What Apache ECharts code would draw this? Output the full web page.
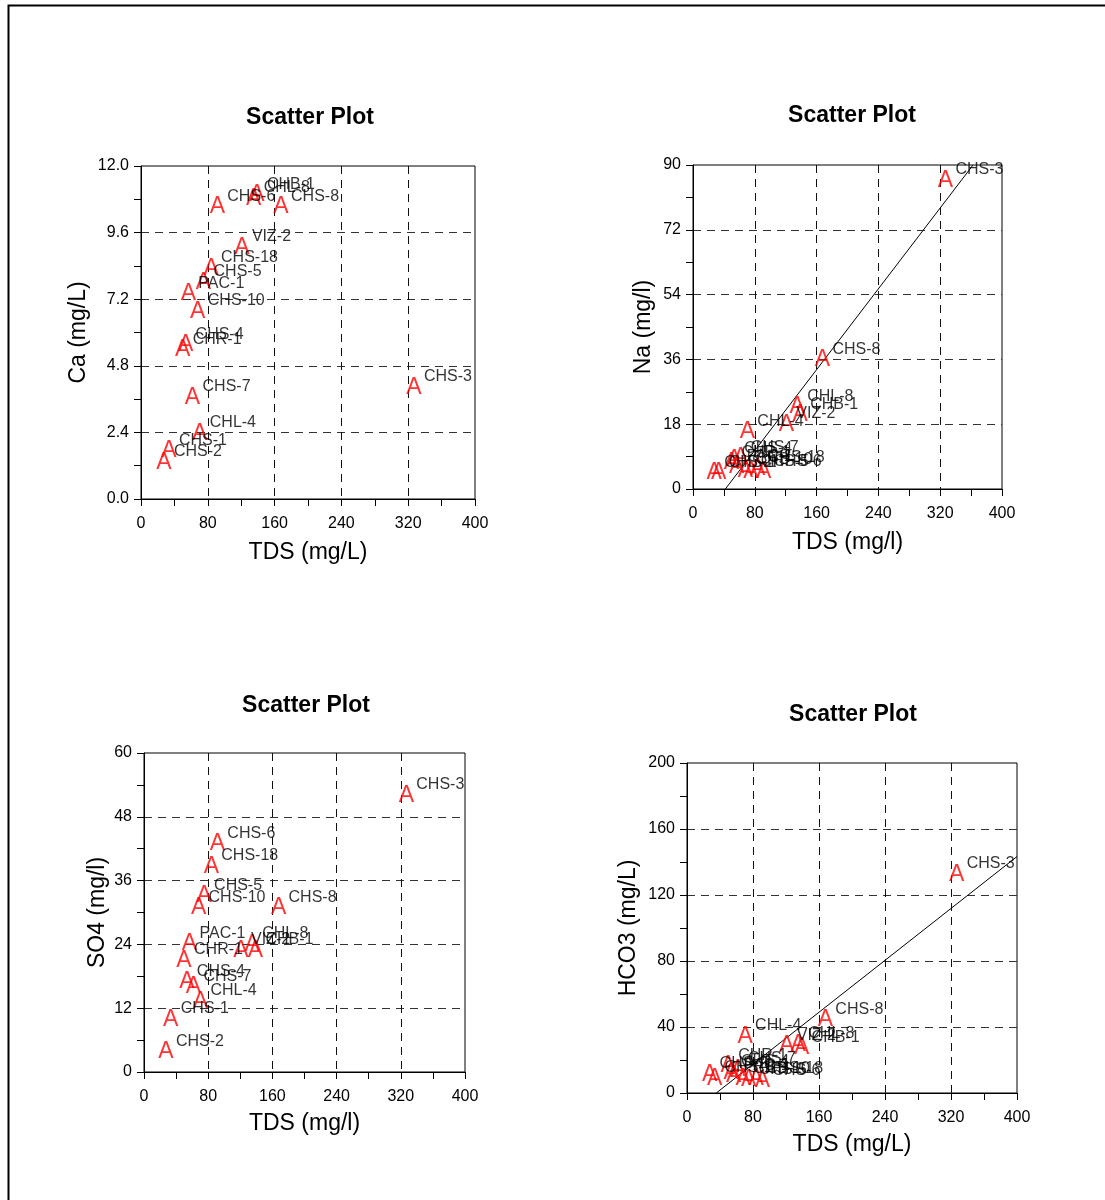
<!DOCTYPE html>
<html>
<head>
<meta charset="utf-8">
<script src="https://cdn.jsdelivr.net/npm/echarts@6/dist/echarts.min.js"></script>
<style>
html,body{margin:0;padding:0;background:#fff;}
#chart{width:1105px;height:1200px;}
</style>
</head>
<body>
<div id="chart"></div>
<script>
// ---- Data ----
const sampleIds = ['CHS-2','CHS-1','CHR-1','CHS-4','PAC-1','CHS-7','CHS-10','CHL-4','CHS-5','CHS-18','CHS-6','VIZ-2','CHL-8','CHB-1','CHS-8','CHS-3'];
const tds  = [28, 34, 50.5, 54, 57.3, 62.3, 68.6, 71, 75.5, 84.5, 92, 121.5, 135.5, 139.5, 168.3, 327.5];
const ca   = [1.36, 1.78, 5.4, 5.6, 7.42, 3.7, 6.79, 2.4, 7.84, 8.35, 10.57, 9.1, 10.87, 11.0, 10.57, 4.06];
const na   = [4.8, 4.8, 7.5, 8.5, 6.5, 9.0, 5.5, 16.2, 5.0, 6.0, 5.0, 18.2, 23.1, 20.9, 36.1, 86.0];
const so4  = [4.0, 10.1, 21.2, 17.1, 24.3, 16.2, 31.1, 13.5, 33.3, 38.9, 43.1, 23.1, 24.2, 23.1, 31.1, 52.2];
const hco3 = [11.8, 9.5, 17, 13, 11, 15, 9, 35, 8.5, 9, 8, 29, 30, 28, 45, 133];
// fitted trend lines as drawn in the picture (end points)
const trendNa   = [[41.9, 0], [362.5, 90]];
const trendHco3 = [[35.5, 0], [400, 143.3]];
// axis settings
const xMax = 400, xInterval = 80;
const yMaxes = [12, 90, 60, 200];
const yIntervals = [2.4, 18, 12, 40];
const yNames = ['Ca (mg/L)', 'Na (mg/l)', 'SO4 (mg/l)', 'HCO3 (mg/L)'];
const xNames = ['TDS (mg/L)', 'TDS (mg/l)', 'TDS (mg/l)', 'TDS (mg/L)'];
const titleText = 'Scatter Plot';

// ---- Layout ----
const FONT = 'Liberation Sans, Arial, Helvetica, sans-serif';
const grids = [
  {left:141, top:166, width:334, height:333},
  {left:693, top:165, width:309, height:324},
  {left:144, top:753, width:321, height:319},
  {left:687, top:763, width:330, height:330}
];
const titlePos = [[305,113],[847,111],[301,701],[848,710]];
const yNameGap = [51, 38, 35, 47];
const xNameGap = [42, 42, 40, 40];
const yDecimals = [1, 0, 0, 0];
const yValueSets = [ca, na, so4, hco3];
const trends = [null, trendNa, null, trendHco3];

const option = {
  animation:false,
  backgroundColor:'#fff',
  textStyle:{fontFamily:FONT},
  title: titlePos.map(p => ({
    text:titleText, left:p[0], top:p[1], textAlign:'center', textVerticalAlign:'middle',
    textStyle:{fontFamily:FONT, fontWeight:'bold', fontSize:23, color:'#000'}
  })),
  grid: grids.map(g => Object.assign({show:true, borderColor:'#000', borderWidth:1, backgroundColor:'transparent', containLabel:false}, g)),
  xAxis: grids.map((g,i) => ({
    type:'value', gridIndex:i, min:0, max:xMax, interval:xInterval,
    name:xNames[i], nameLocation:'middle', nameGap:xNameGap[i],
    nameTextStyle:{fontFamily:FONT, fontSize:23, color:'#000'},
    axisLine:{show:true, onZero:false, lineStyle:{color:'#000', width:1}},
    axisTick:{show:true, inside:false, length:7, lineStyle:{color:'#000'}},
    minorTick:{show:true, splitNumber:2, length:7, lineStyle:{color:'#000'}},
    axisLabel:{fontFamily:FONT, fontSize:16, color:'#000', margin:17},
    splitLine:{show:true, showMinLine:false, showMaxLine:false, lineStyle:{color:'#111', type:[8,6], width:1}}
  })),
  yAxis: grids.map((g,i) => ({
    type:'value', gridIndex:i, min:0, max:yMaxes[i], interval:yIntervals[i],
    name:yNames[i], nameLocation:'middle', nameGap:yNameGap[i], nameRotate:90,
    nameTextStyle:{fontFamily:FONT, fontSize:23, color:'#000'},
    axisLine:{show:true, onZero:false, lineStyle:{color:'#000', width:1}},
    axisTick:{show:true, inside:false, length:7, lineStyle:{color:'#000'}},
    minorTick:{show:true, splitNumber:2, length:7, lineStyle:{color:'#000'}},
    axisLabel:{fontFamily:FONT, fontSize:16, color:'#000', margin:12,
      formatter: v => v.toFixed(yDecimals[i])},
    splitLine:{show:true, showMinLine:false, showMaxLine:false, lineStyle:{color:'#333', type:[8,6], width:1}}
  })),
  series: [],
  graphic: [{
    type:'rect', left:6, top:3, silent:true, z:100,
    shape:{x:0, y:0, width:1120, height:1220},
    style:{fill:'none', stroke:'#000', lineWidth:2}
  }]
};

yValueSets.forEach((ys, i) => {
  const pts = tds.map((x, k) => [x, ys[k], sampleIds[k]]);
  if (trends[i]) {
    option.series.push({
      type:'line', xAxisIndex:i, yAxisIndex:i, data:trends[i], symbol:'none', silent:true,
      clip:true, lineStyle:{color:'#000', width:1}, z:1
    });
  }
  option.series.push({
    type:'scatter', xAxisIndex:i, yAxisIndex:i, data:pts, symbolSize:1, silent:true,
    itemStyle:{color:'rgba(0,0,0,0)'}, z:3,
    label:{show:true, position:[0,1.5], align:'center', verticalAlign:'middle',
      formatter:'A', color:'#ff0000', fontFamily:FONT, fontSize:23}
  });
  option.series.push({
    type:'scatter', xAxisIndex:i, yAxisIndex:i, data:pts, symbolSize:1, silent:true,
    itemStyle:{color:'rgba(0,0,0,0)'}, z:4,
    label:{show:true, position:[10,-9], align:'left', verticalAlign:'middle',
      formatter:p => p.data[2], color:'#000', fontFamily:FONT, fontSize:16}
  });
});

const chart = echarts.init(document.getElementById('chart'), null, {renderer:'canvas'});
chart.setOption(option);
</script>
</body>
</html>
